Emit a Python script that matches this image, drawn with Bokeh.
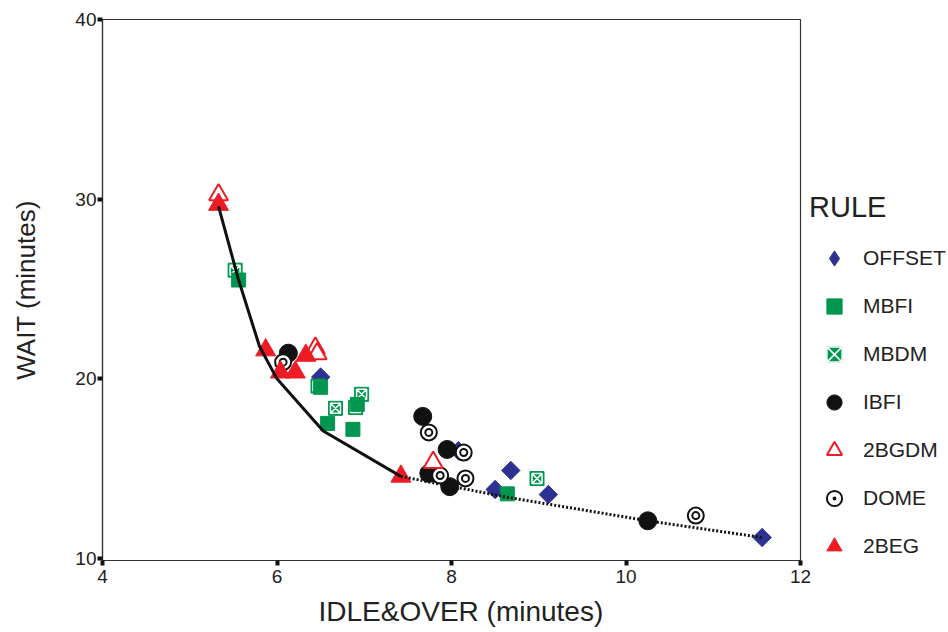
import math
from bokeh.plotting import figure
from bokeh.models import Legend, LegendItem, Range1d, FixedTicker, Title
from bokeh.embed import file_html
from bokeh.resources import INLINE

# ---- data ----
offset_x = [6.50, 8.08, 8.50, 8.68, 9.11, 11.56]
offset_y = [20.10, 16.00, 13.84, 14.90, 13.56, 11.17]

mbfi_x = [5.56, 6.50, 6.58, 6.87, 6.92, 8.64]
mbfi_y = [25.50, 19.53, 17.52, 17.19, 18.58, 13.60]

mbdm_x = [5.52, 6.47, 6.67, 6.90, 6.97, 8.98]
mbdm_y = [26.05, 19.60, 18.36, 18.40, 19.14, 14.45]

ibfi_x = [6.13, 7.67, 7.95, 7.74, 7.98, 10.25]
ibfi_y = [21.43, 17.91, 16.07, 14.74, 14.00, 12.10]

dome_x = [6.07, 7.74, 8.14, 7.87, 8.16, 10.80]
dome_y = [20.93, 17.02, 15.90, 14.62, 14.46, 12.39]

bgdm_x = [5.33, 6.44, 6.46, 7.79]
bgdm_y = [30.24, 21.70, 21.40, 15.35]

beg_x = [5.33, 5.87, 6.04, 6.21, 6.33, 7.42]
beg_y = [29.70, 21.60, 20.37, 20.37, 21.30, 14.57]

front_solid_x = [5.33, 5.56, 5.80, 6.00, 6.53, 7.42]
front_solid_y = [29.60, 25.50, 21.80, 20.00, 17.10, 14.57]

front_dot_x = [7.42, 8.65, 10.25, 11.56]
front_dot_y = [14.57, 13.40, 12.10, 11.17]

x_ticks = [4, 6, 8, 10, 12]
y_ticks = [10, 20, 30, 40]

BLUE = "#2e3192"
GREEN = "#00964f"
RED = "#ed1c24"
BLACK = "#111111"
FONT = "Liberation Sans"
TXT = "#222222"

p = figure(frame_width=698, frame_height=541,
           x_range=Range1d(4, 12), y_range=Range1d(9.89, 40),
           output_backend="svg", toolbar_location=None,
           min_border_left=102, min_border_right=0,
           min_border_top=19, min_border_bottom=72)

p.grid.visible = False
p.outline_line_color = "#333333"
p.outline_line_width = 1.2
p.background_fill_color = "white"
p.border_fill_color = "white"

for ax in (p.xaxis[0], p.yaxis[0]):
    ax.axis_line_color = "#333333"
    ax.axis_line_width = 1.2
    ax.major_tick_in = 0
    ax.major_tick_out = 5
    ax.major_tick_line_width = 4
    ax.major_tick_line_color = "#111111"
    ax.minor_tick_line_color = None
    ax.major_label_text_font = FONT
    ax.major_label_text_font_size = "19px"
    ax.major_label_text_color = TXT
    ax.axis_label_text_font = FONT
    ax.axis_label_text_font_style = "normal"
    ax.axis_label_text_color = TXT

p.xaxis.ticker = FixedTicker(ticks=x_ticks)
p.yaxis.ticker = FixedTicker(ticks=y_ticks)
p.yaxis.axis_label = "WAIT (minutes)"
p.yaxis.axis_label_text_font_size = "26px"
p.xaxis.major_label_standoff = 4
p.yaxis.major_label_standoff = 1
p.yaxis.axis_label_standoff = 31

xtitle = Title(text="IDLE&OVER (minutes)", align="left", offset=216,
               text_font=FONT, text_font_size="28px", text_font_style="normal",
               text_color=TXT, standoff=16)
p.add_layout(xtitle, "below")

r_off = p.scatter(offset_x, offset_y, marker="square", size=13, angle=math.pi / 4,
                  fill_color=BLUE, line_color=BLUE)
r_mbdm1 = p.scatter(mbdm_x, mbdm_y, marker="square", size=14,
                    fill_color=GREEN, line_color=GREEN)
r_mbdm2 = p.scatter(mbdm_x, mbdm_y, marker="square_x", size=10,
                    fill_color=None, line_color="white", line_width=1.5)
r_mbfi = p.scatter(mbfi_x, mbfi_y, marker="square", size=14,
                   fill_color=GREEN, line_color=GREEN)
r_ibfi = p.scatter(ibfi_x, ibfi_y, marker="circle", size=18,
                   fill_color=BLACK, line_color=BLACK)
r_dome1 = p.scatter(dome_x, dome_y, marker="circle", size=16,
                    fill_color="white", line_color=BLACK, line_width=2)
r_dome2 = p.scatter(dome_x, dome_y, marker="circle", size=7,
                    fill_color="white", line_color=BLACK, line_width=2)
r_bgdm = p.scatter(bgdm_x, bgdm_y, marker="triangle", size=19,
                   fill_color="white", line_color=RED, line_width=2)
r_beg = p.scatter(beg_x, beg_y, marker="triangle", size=20,
                  fill_color=RED, line_color=RED)

p.line(front_solid_x, front_solid_y, line_color=BLACK, line_width=3)
p.line(front_dot_x, front_dot_y, line_color=BLACK, line_width=3, line_dash="2 2")

# hidden renderers used only for the legend symbols
lg_off = p.scatter(offset_x, offset_y, marker="diamond", fill_color=BLUE,
                   line_color=BLUE, visible=False)
lg_dome = p.scatter(dome_x, dome_y, marker="circle_dot", fill_color="white",
                    line_color=BLACK, line_width=2, visible=False)

legend = Legend(items=[
    LegendItem(label="OFFSET", renderers=[lg_off]),
    LegendItem(label="MBFI", renderers=[r_mbfi]),
    LegendItem(label="MBDM", renderers=[r_mbdm1, r_mbdm2]),
    LegendItem(label="IBFI", renderers=[r_ibfi]),
    LegendItem(label="2BGDM", renderers=[r_bgdm]),
    LegendItem(label="DOME", renderers=[lg_dome]),
    LegendItem(label="2BEG", renderers=[r_beg]),
], title="RULE")
legend.title_text_font = FONT
legend.title_text_font_size = "29px"
legend.title_text_font_style = "normal"
legend.title_text_color = TXT
legend.title_standoff = 15
legend.label_text_font = FONT
legend.label_text_font_size = "21px"
legend.label_text_color = TXT
legend.glyph_width = 50
legend.glyph_height = 38
legend.label_height = 38
legend.spacing = 10
legend.padding = 4
legend.margin = 0
legend.label_standoff = 4
legend.border_line_color = None
legend.background_fill_alpha = 0
legend.inactive_fill_alpha = 0
legend.location = (9, -5)
p.add_layout(legend, "right")

open("out.html", "w").write(file_html(p, INLINE))
